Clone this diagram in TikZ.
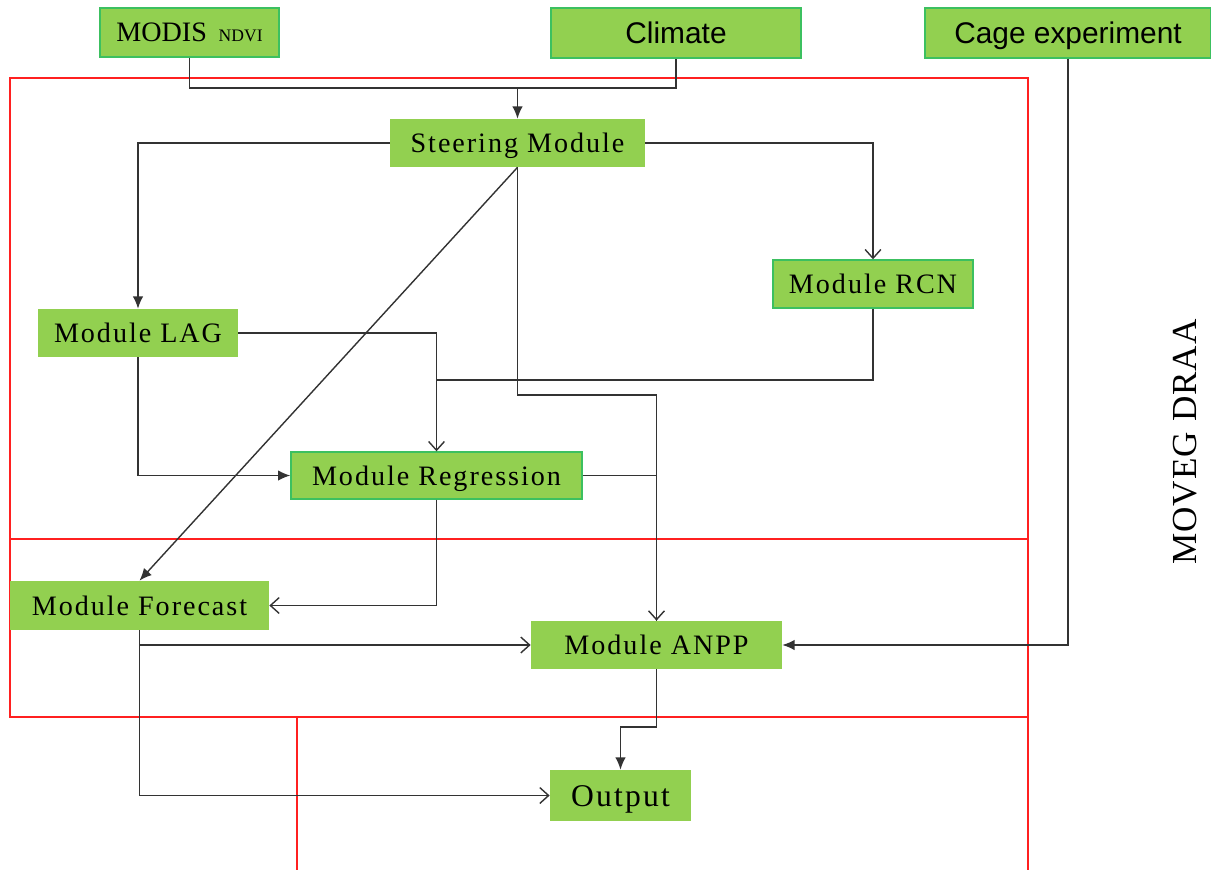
\documentclass[tikz,border=0pt]{standalone}
\usepackage{fontspec}
\setmainfont{Liberation Serif}
\newfontfamily\sansf{Liberation Sans}
\usetikzlibrary{arrows.meta}
\definecolor{boxgreen}{HTML}{92D050}
\definecolor{edgegreen}{HTML}{3CC060}
\definecolor{wire}{HTML}{333333}
\definecolor{frame}{HTML}{FF2020}
\newcommand{\pxu}{0.02cm}
\newcommand{\modfont}{\fontsize{16}{18}\selectfont\addfontfeature{LetterSpace=7}}
\tikzset{
  x=0.02cm, y=-0.02cm,
  box/.style={rectangle, fill=boxgreen, inner sep=0pt, font=\modfont, text=black,
    text height=11.2pt, text depth=0pt},
  edged/.style={draw=edgegreen, line width=0.8pt},
  src/.style={box, edged, font=\sansf\fontsize{17}{20}\selectfont, text height=11.6pt},
  wireline/.style={draw=wire, line width=0.8pt},
  fa/.style={wireline, -{Latex[length=7pt, width=6pt]}},
  oa/.style={wireline, -{Straight Barb[length=5pt, width=9pt]}},
  frameline/.style={draw=frame, line width=0.7pt}
}
\begin{document}
\begin{tikzpicture}
\useasboundingbox (0,0) rectangle (1211,870);

% red module frame
\draw[frameline] (10,78) rectangle (1028,717);
\draw[frameline] (10,539) -- (1028,539);
\draw[frameline] (297,717) -- (297,870);
\draw[frameline] (1028,717) -- (1028,870);

% input boxes
\node[box, edged, minimum width=179*\pxu, minimum height=49*\pxu,
  font=\fontsize{16}{18}\selectfont, text height=10.6pt] (modis) at (189.5,32.5)
  {MODIS\, {\fontsize{10}{12}\selectfont NDVI}};
\node[src, minimum width=250*\pxu, minimum height=50*\pxu] (climate) at (676,33) {Climate};
\node[src, minimum width=286*\pxu, minimum height=50*\pxu] (cage) at (1068,33) {Cage experiment};

% module boxes
\node[box, minimum width=255*\pxu, minimum height=48*\pxu] (steer) at (517.5,143) {Steering Module};
\node[box, edged, minimum width=200*\pxu, minimum height=48*\pxu] (rcn) at (873,284) {Module RCN};
\node[box, minimum width=200*\pxu, minimum height=48*\pxu] (lag) at (138,333) {Module LAG};
\node[box, edged, minimum width=291*\pxu, minimum height=47*\pxu] (regr) at (436.5,475.5) {Module Regression};
\node[box, minimum width=259*\pxu, minimum height=49*\pxu] (fore) at (139.5,605.5) {Module Forecast};
\node[box, minimum width=251*\pxu, minimum height=48*\pxu] (anpp) at (656.5,645) {Module ANPP};
\node[box, minimum width=141*\pxu, minimum height=51*\pxu, text height=12.6pt,
  font=\fontsize{18}{20}\selectfont\addfontfeature{LetterSpace=7}] (out) at (620.5,795.5) {Output};

% side label
\node[rotate=90, font=\fontsize{20}{22}\selectfont\addfontfeature{LetterSpace=3}] (draa) at (1185,442) {MOVEG DRAA};

% helper coordinates for elbow rows
\coordinate (join) at (518,88);
\coordinate (rowA) at (0,395);
\coordinate (rowB) at (0,380);
\coordinate (rowC) at (0,727);

% inputs merge into the steering module
\draw[wireline] (modis.south) -- (modis.south |- join) -- (climate.south |- join) -- (climate.south);
\draw[fa] (steer.north |- join) -- (steer.north);

% steering module outputs
\draw[fa] (steer.west) -| (lag.north);
\draw[oa] (steer.east) -| (rcn.north);
\draw[fa] (steer.south) -- (fore.north);
\draw[oa] (steer.south) |- (anpp.north |- rowA) -- (anpp.north);

% LAG and RCN into regression
\draw[oa] (lag.east) -| (regr.north);
\draw[wireline] (rcn.south) |- (regr.north |- rowB);
\draw[fa] (lag.south) |- (regr.west);

% regression outputs
\draw[wireline] (regr.east) -| (anpp.north);
\draw[oa] (regr.south) |- (fore.east);

% forecast outputs
\draw[oa] (fore.south) |- (out.west);
\draw[oa] (fore.south |- anpp.west) -- (anpp.west);

% ANPP to output, cage experiment to ANPP
\draw[fa] (anpp.south) -- (anpp.south |- rowC) -- (out.north |- rowC) -- (out.north);
\draw[fa] (cage.south) |- (anpp.east);
\end{tikzpicture}
\end{document}
